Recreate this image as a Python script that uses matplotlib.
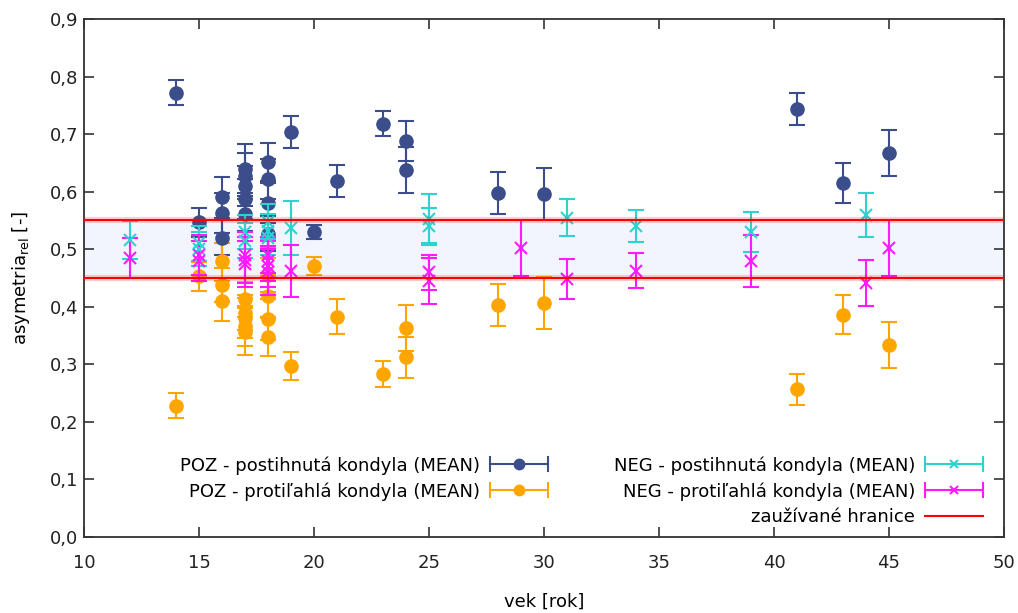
import matplotlib
matplotlib.use("Agg")
import matplotlib.pyplot as plt
from matplotlib.lines import Line2D
from matplotlib.legend_handler import HandlerBase
from matplotlib.ticker import FuncFormatter

# ---- data ----
poz_post_x = [14, 15, 16, 16, 16, 17, 17, 17, 17, 17, 18, 18, 18, 18, 19, 20, 21, 23, 24, 24, 28, 30, 41, 43, 45]
poz_post_y = [0.772, 0.547, 0.590, 0.563, 0.520, 0.640, 0.628, 0.610, 0.587, 0.562, 0.652, 0.622, 0.580, 0.527,
              0.703, 0.530, 0.618, 0.718, 0.688, 0.638, 0.598, 0.596, 0.743, 0.615, 0.667]
poz_post_e = [0.022, 0.025, 0.035, 0.035, 0.030, 0.042, 0.040, 0.035, 0.035, 0.030, 0.033, 0.035, 0.035, 0.030,
              0.028, 0.012, 0.028, 0.022, 0.035, 0.040, 0.036, 0.045, 0.028, 0.034, 0.040]

poz_prot_x = [14, 15, 16, 16, 16, 17, 17, 17, 17, 17, 18, 18, 18, 18, 19, 20, 21, 23, 24, 24, 28, 30, 41, 43, 45]
poz_prot_y = [0.228, 0.453, 0.480, 0.438, 0.410, 0.413, 0.390, 0.380, 0.366, 0.357, 0.455, 0.418, 0.378, 0.347,
              0.297, 0.471, 0.383, 0.283, 0.363, 0.312, 0.403, 0.407, 0.257, 0.386, 0.334]
poz_prot_e = [0.022, 0.025, 0.030, 0.030, 0.035, 0.030, 0.030, 0.035, 0.035, 0.040, 0.030, 0.035, 0.035, 0.033,
              0.025, 0.015, 0.030, 0.022, 0.040, 0.035, 0.037, 0.045, 0.027, 0.034, 0.040]

neg_post_x = [12, 15, 15, 17, 17, 18, 18, 18, 19, 25, 25, 31, 34, 39, 44]
neg_post_y = [0.516, 0.510, 0.500, 0.530, 0.515, 0.548, 0.532, 0.520, 0.537, 0.553, 0.540, 0.555, 0.540, 0.530, 0.560]
neg_post_e = [0.033, 0.030, 0.030, 0.030, 0.030, 0.030, 0.030, 0.030, 0.047, 0.043, 0.032, 0.032, 0.028, 0.035, 0.038]

neg_prot_x = [12, 15, 15, 17, 17, 17, 18, 18, 18, 18, 19, 25, 25, 29, 31, 34, 39, 44, 45]
neg_prot_y = [0.485, 0.490, 0.480, 0.490, 0.482, 0.475, 0.490, 0.480, 0.470, 0.460, 0.462, 0.460, 0.445, 0.502,
              0.448, 0.463, 0.480, 0.442, 0.502]
neg_prot_e = [0.035, 0.035, 0.035, 0.040, 0.040, 0.040, 0.032, 0.035, 0.035, 0.040, 0.045, 0.030, 0.040, 0.048,
              0.035, 0.030, 0.045, 0.040, 0.048]

limits = [0.45, 0.55]

labels = ["POZ - postihnutá kondyla (MEAN)", "POZ - protiľahlá kondyla (MEAN)",
          "NEG - postihnutá kondyla (MEAN)", "NEG - protiľahlá kondyla (MEAN)", "zaužívané hranice"]

c_navy = "#3b4e8b"
c_orange = "#ffa500"
c_cyan = "#2ed3d0"
c_mag = "#ff1aff"
c_red = "#ff0000"

plt.rcParams["font.family"] = ["DejaVu Sans"]


class HandlerHErr(HandlerBase):
    def __init__(self, color, marker, ms, mew=1.5):
        super().__init__()
        self.color, self.marker, self.ms, self.mew = color, marker, ms, mew

    def create_artists(self, legend, orig_handle, xdescent, ydescent, width, height, fontsize, trans):
        y = height / 2 - ydescent
        x0, x1 = -xdescent, -xdescent + width
        cap = 5.0
        arts = [Line2D([x0, x1], [y, y], color=self.color, lw=1.5),
                Line2D([x0, x0], [y - cap, y + cap], color=self.color, lw=1.5),
                Line2D([x1, x1], [y - cap, y + cap], color=self.color, lw=1.5),
                Line2D([(x0 + x1) / 2], [y], color=self.color, marker=self.marker,
                       ms=self.ms, mew=self.mew, linestyle="none")]
        for a in arts:
            a.set_transform(trans)
        return arts


fig = plt.figure(figsize=(10.18, 6.13), dpi=100)
ax = fig.add_axes([0.0825, 0.124, 0.9038, 0.845])

ax.axhspan(limits[0], limits[1], color="#f2f5fd", zorder=0, lw=0)

ekw = dict(capsize=6, elinewidth=1.5, capthick=1.5, linestyle="none")
h1 = ax.errorbar(poz_post_x, poz_post_y, yerr=poz_post_e, fmt="o", color=c_navy, ms=9.5, zorder=3, **ekw)
h2 = ax.errorbar(poz_prot_x, poz_prot_y, yerr=poz_prot_e, fmt="o", color=c_orange, ms=9.5, zorder=3, **ekw)
h3 = ax.errorbar(neg_post_x, neg_post_y, yerr=neg_post_e, fmt="x", color=c_cyan, ms=8, mew=1.5, zorder=4, **ekw)
h4 = ax.errorbar(neg_prot_x, neg_prot_y, yerr=neg_prot_e, fmt="x", color=c_mag, ms=8, mew=1.5, zorder=4, **ekw)

for v in limits:
    ax.axhline(v, color=c_red, lw=4.5, alpha=0.18, zorder=5)
    ax.axhline(v, color=c_red, lw=1.5, zorder=6)
h5 = Line2D([], [], color=c_red, lw=1.5)

ax.set_xlim(10, 50)
ax.set_ylim(0, 0.9)
ax.set_xticks(range(10, 51, 5))
ax.set_yticks([i / 10 for i in range(10)])
ax.yaxis.set_major_formatter(FuncFormatter(lambda v, p: f"{v:.1f}".replace(".", ",")))
ax.tick_params(direction="in", length=7, width=1.2, top=True, right=True, labelsize=13,
               colors="#333333")
ax.tick_params(axis="y", pad=4)
ax.tick_params(axis="x", pad=12)
for t in ax.get_xticklabels() + ax.get_yticklabels():
    t.set_color("#222222")
for s in ax.spines.values():
    s.set_color("#333333")
    s.set_linewidth(1.3)

ax.set_xlabel("vek [rok]", fontsize=13, labelpad=15)
ax.set_ylabel(r"asymetria$_{\mathregular{rel}}$ [-]", fontsize=13, labelpad=13)

hmap = {h1: HandlerHErr(c_navy, "o", 7), h2: HandlerHErr(c_orange, "o", 7),
        h3: HandlerHErr(c_cyan, "x", 6), h4: HandlerHErr(c_mag, "x", 6)}

lkw = dict(frameon=False, markerfirst=False, handlelength=3.2, handletextpad=0.55,
           labelspacing=0.42, borderpad=0, fontsize=13, handler_map=hmap,
           bbox_transform=fig.transFigure)
leg1 = ax.legend([h1, h2], labels[:2], loc="upper right",
                 bbox_to_anchor=(557 / 1018, 1 - 447 / 613), **lkw)
ax.add_artist(leg1)
leg2 = ax.legend([h3, h4, h5], labels[2:], loc="upper right",
                 bbox_to_anchor=(992 / 1018, 1 - 447 / 613), **lkw)

fig.savefig("out.png", dpi=100)
